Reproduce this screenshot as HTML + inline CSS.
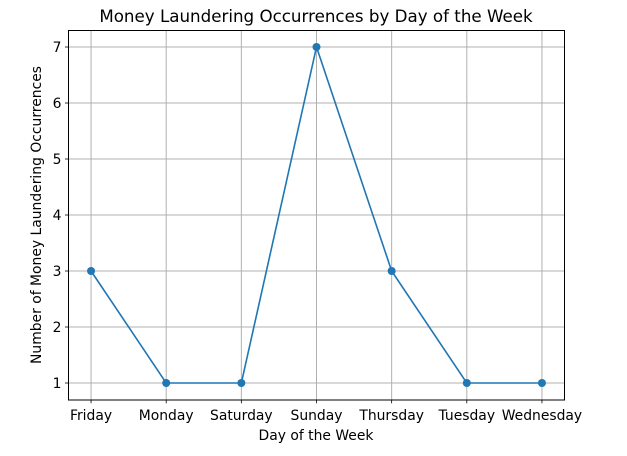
<!DOCTYPE html>
<html><head><meta charset="utf-8"><style>
body{margin:0;background:#fff;}
svg text{font-family:"DejaVu Sans","Liberation Sans",sans-serif;fill:#000;}
</style></head><body>
<svg id="chart" width="627" height="451" xmlns="http://www.w3.org/2000/svg">
<rect width="627" height="451" fill="#fff"/>
<text x="316" y="22" font-size="16.7" text-anchor="middle">Money Laundering Occurrences by Day of the Week</text>
<g id="grid"></g>
<g id="ticks"></g>
<rect x="68.5" y="30.5" width="496" height="369.5" fill="none" stroke="#000" stroke-width="1"/>
<g id="series"></g>
<text x="316" y="440" font-size="13.9" text-anchor="middle">Day of the Week</text>
<text transform="translate(41,215) rotate(-90)" font-size="13.9" text-anchor="middle">Number of Money Laundering Occurrences</text>
</svg>
<script>
const categories=["Friday","Monday","Saturday","Sunday","Thursday","Tuesday","Wednesday"];
const values=[3,1,1,7,3,1,1];
const yTicks=[1,2,3,4,5,6,7];
const NS="http://www.w3.org/2000/svg";
const L=68.5,R=564.5,T=30.2,B=399.8;
const xMin=-0.3,xMax=categories.length-1+0.3,yMin=0.7,yMax=7.3;
function xs(i){return L+(i-xMin)/(xMax-xMin)*(R-L);}
function ys(v){return B-(v-yMin)/(yMax-yMin)*(B-T);}
function mk(tag,attrs,parent){const e=document.createElementNS(NS,tag);for(const k in attrs)e.setAttribute(k,attrs[k]);parent.appendChild(e);return e;}
const grid=document.getElementById('grid'),ticks=document.getElementById('ticks'),series=document.getElementById('series');
categories.forEach((c,i)=>{
 const x=xs(i);
 const g=mk('line',{x1:x,x2:x,y1:T,y2:B,stroke:'#b0b0b0','stroke-width':1},grid);
 
 
 const t=mk('line',{x1:x,x2:x,y1:B,y2:B+3.5,stroke:'#000','stroke-width':0.8},ticks);
 
 
 const l=mk('text',{x:x,y:B+20,'font-size':13.9,'text-anchor':'middle'},ticks);
 l.textContent=c;
 
 
});
yTicks.forEach(v=>{
 const y=ys(v);
 const g=mk('line',{x1:L,x2:R,y1:y,y2:y,stroke:'#b0b0b0','stroke-width':1},grid);
 
 
 const t=mk('line',{x1:L-3.5,x2:L,y1:y,y2:y,stroke:'#000','stroke-width':0.8},ticks);
 
 
 const l=mk('text',{x:L-7,y:y+5,'font-size':13.9,'text-anchor':'end'},ticks);
 l.textContent=v;
 
 
});
const pts=values.map((v,i)=>xs(i)+','+ys(v)).join(' ');
const line=mk('polyline',{points:pts,fill:'none',stroke:'#1f77b4','stroke-width':1.6},series);


values.forEach((v,i)=>{
 const c=mk('circle',{cx:xs(i),cy:ys(v),r:4,fill:'#1f77b4'},series);
 
 
});
</script>
</body></html>
